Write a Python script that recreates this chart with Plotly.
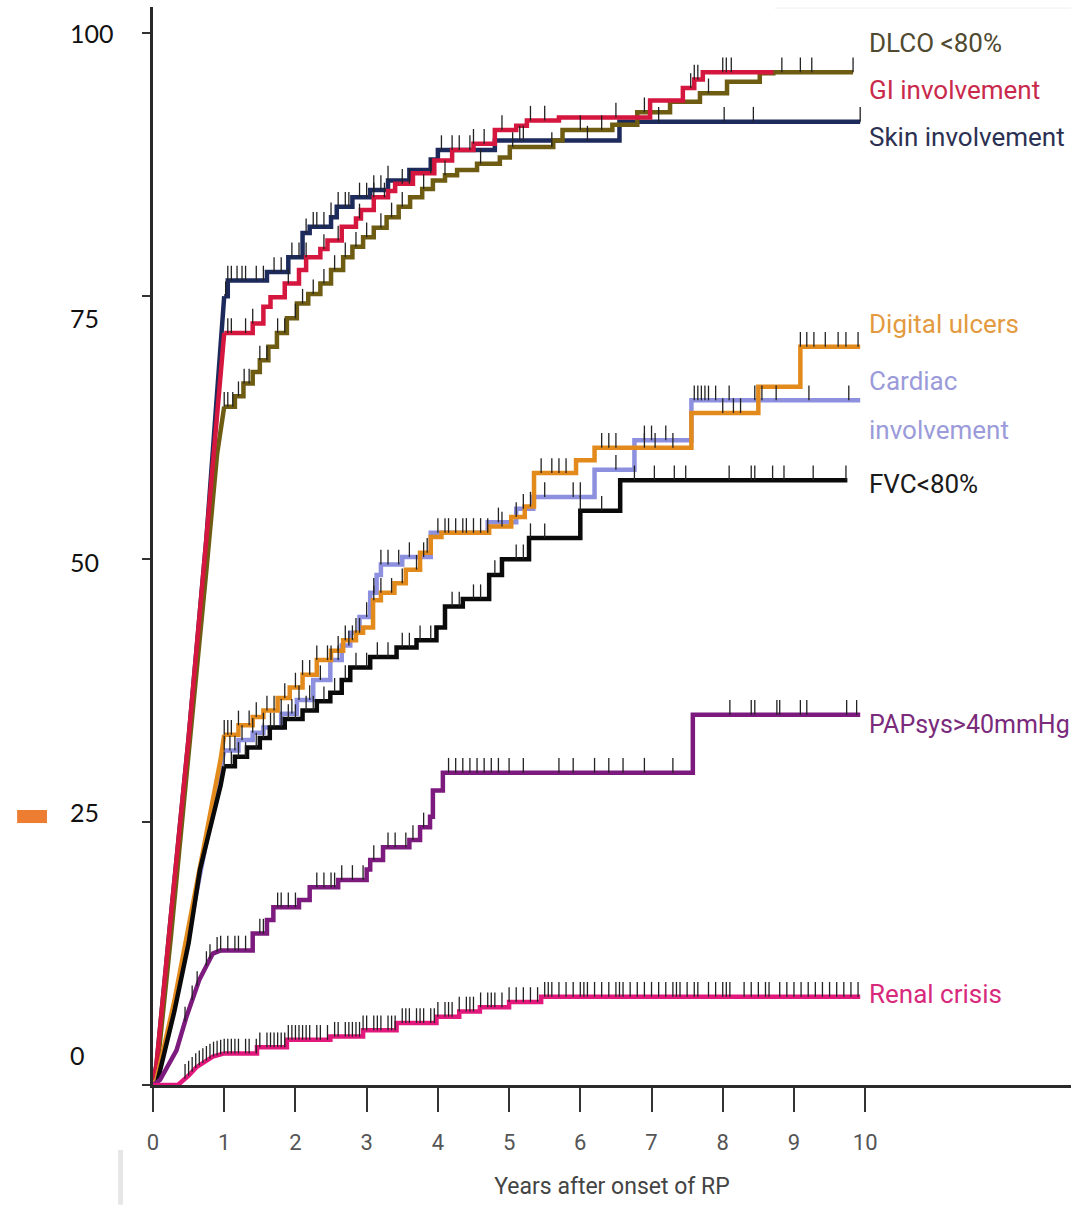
import numpy as np
import plotly.graph_objects as go

# ---------------- data ----------------
x_ticks = [0, 1, 2, 3, 4, 5, 6, 7, 8, 9, 10]
y_ticks = [0, 25, 50, 75, 100]
y_tick_labels = ["100", "75", "50", "25", "0"]
x_title = "Years after onset of RP"

# early rise (many tiny steps -> drawn as a line)
skin_rise_t = [0, 0.05, 0.25, 0.5, 0.75, 0.9, 0.97, 1.0]
skin_rise_v = [0, 2, 16, 33, 52, 65, 72, 75]
skin_t = [1.0, 1.05, 1.6, 1.9, 2.1, 2.2, 2.5, 2.58, 2.8, 3.05, 3.3, 3.6, 3.9, 4.0, 4.8, 6.55, 9.93]
skin_v = [75, 76.5, 77.3, 78.7, 81.0, 81.6, 82.5, 83.5, 84.4, 85.1, 86.0, 87.0, 88.0, 88.9, 89.8, 91.6, 91.6]
skin_cens = [1.02, 1.05, 1.1, 1.18, 1.25, 1.3, 1.45, 1.55, 1.7, 1.8, 1.95, 2.05, 2.15, 2.25, 2.3, 2.4,
             2.5, 2.6, 2.7, 2.75, 2.9, 3.0, 3.1, 3.2, 3.3, 4.05, 4.3, 4.45, 5.15, 5.2, 6.1, 7.1, 8.02,
             8.43, 9.93]

gi_rise_t = [0, 0.05, 0.25, 0.5, 0.75, 0.9, 0.98, 1.0]
gi_rise_v = [0, 2, 16, 33, 52, 64, 71, 71.5]
gi_t = [1.0, 1.4, 1.55, 1.65, 1.85, 2.05, 2.15, 2.35, 2.45, 2.65, 2.85, 2.92, 3.1, 3.3, 3.4, 3.65,
        3.95, 4.2, 4.5, 4.8, 5.1, 5.25, 5.7, 6.98, 7.44, 7.6, 7.72, 8.71]
gi_v = [71.5, 72.4, 74.0, 74.9, 76.2, 77.5, 78.7, 79.5, 80.3, 81.6, 82.4, 83.2, 84.4, 85.0, 85.7, 86.7,
        87.9, 88.9, 89.5, 90.8, 91.2, 91.7, 92.0, 93.6, 94.8, 95.6, 96.3, 96.3]
gi_cens = [1.05, 1.1, 1.3, 1.4, 1.9, 2.15, 2.4, 2.6, 2.9, 3.1, 3.25, 3.5, 3.6, 3.9, 4.2, 4.5, 4.65, 4.9,
           5.3, 5.5, 6.5, 7.55, 7.6, 7.65, 8.0, 8.05, 8.12]

dlco_rise_t = [0, 0.05, 0.25, 0.5, 0.75, 0.9, 0.97, 1.0]
dlco_rise_v = [0, 1, 14, 31, 49, 60, 63.5, 64.5]
dlco_t = [1.0, 1.15, 1.27, 1.4, 1.5, 1.62, 1.74, 1.88, 2.02, 2.18, 2.35, 2.5, 2.67, 2.8, 2.95, 3.1,
          3.28, 3.45, 3.61, 3.78, 3.93, 4.1, 4.27, 4.55, 4.87, 5.01, 5.62, 5.75, 6.45, 6.8, 7.26, 7.68,
          8.06, 8.52, 8.71, 9.83]
dlco_v = [64.5, 65.5, 66.7, 67.8, 68.9, 70.2, 71.5, 72.9, 74.3, 75.2, 76.2, 77.5, 78.7, 79.7, 80.6, 81.5,
          82.5, 83.5, 84.4, 85.2, 86.0, 86.5, 87.0, 87.6, 88.2, 89.2, 89.8, 90.8, 91.3, 92.5, 93.5, 94.3,
          95.4, 96.2, 96.3, 96.3]
dlco_cens = [1.0, 1.05, 1.12, 1.2, 1.28, 1.35, 1.5, 1.6, 1.75, 1.85, 2.0, 2.1, 2.25, 2.4, 2.55, 2.7, 2.85,
             3.0, 3.2, 3.35, 3.5, 3.8, 4.1, 4.6, 5.05, 5.6, 6.0, 6.3, 6.9, 7.8, 8.83, 9.09, 9.25, 9.83]

du_rise_t = [0, 0.05, 0.3, 0.5, 0.7, 0.85, 0.95, 1.0]
du_rise_v = [0, 0.5, 8, 15, 22, 27, 31, 33.3]
du_t = [1.0, 1.2, 1.4, 1.55, 1.75, 1.92, 2.1, 2.3, 2.5, 2.67, 2.85, 2.95, 3.09, 3.2, 3.39, 3.55, 3.75,
        3.9, 4.05, 4.72, 5.03, 5.22, 5.35, 5.94, 6.2, 7.56, 8.5, 9.09, 9.93]
du_v = [33.3, 34.2, 35.0, 35.6, 36.8, 37.8, 39.0, 40.4, 41.3, 42.3, 43.0, 43.5, 46.1, 46.8, 47.7, 49.0,
        50.6, 52.1, 52.5, 53.1, 54.0, 55.0, 58.2, 59.4, 60.6, 63.9, 66.4, 70.2, 70.2]
du_cens = [1.0, 1.05, 1.1, 1.2, 1.35, 1.45, 1.6, 1.7, 1.85, 2.0, 2.1, 2.2, 2.3, 2.45, 2.6, 2.7, 2.8, 2.9,
           3.1, 3.2, 3.35, 3.5, 3.7, 3.85, 4.1, 4.25, 4.35, 4.5, 4.7, 4.9, 5.1, 5.3, 5.45, 5.6, 5.7, 5.8,
           6.3, 6.4, 6.5, 6.9, 7.05, 7.3, 8.0, 8.15, 8.25, 9.09, 9.18, 9.28, 9.44, 9.62, 9.73, 9.9]

card_rise_t = [0, 0.05, 0.3, 0.5, 0.7, 0.85, 0.95, 1.0]
card_rise_v = [0, 0.5, 7.5, 14.5, 21.5, 26.5, 30, 31.8]
card_t = [1.0, 1.2, 1.4, 1.55, 1.8, 2.02, 2.25, 2.49, 2.65, 2.77, 2.9, 3.05, 3.14, 3.2, 3.5, 3.9, 4.7,
          5.1, 5.34, 6.2, 6.76, 7.56, 9.93]
card_v = [31.8, 32.8, 33.5, 34.0, 35.3, 36.6, 38.5, 40.4, 41.8, 43.0, 44.5, 46.8, 48.5, 49.5, 50.2, 52.5,
          53.5, 54.8, 55.9, 58.5, 61.3, 65.1, 65.1]
card_cens = [1.0, 1.08, 1.15, 1.25, 1.4, 1.55, 1.65, 1.8, 1.95, 2.05, 2.2, 2.35, 2.5, 2.6, 2.75, 2.85, 3.0,
             3.1, 3.2, 3.3, 3.45, 3.6, 3.8, 4.0, 4.15, 4.4, 4.6, 4.85, 5.2, 5.5, 5.9, 6.0, 6.5, 6.9, 7.0,
             7.2, 7.6, 7.65, 7.7, 7.75, 7.8, 7.9, 8.09, 8.45, 8.55, 8.75, 9.21, 9.77]

fvc_rise_t = [0, 0.05, 0.3, 0.5, 0.66, 0.85, 0.95, 1.0]
fvc_rise_v = [0, 0, 7, 13.5, 20.5, 25.5, 28.5, 30.3]
fvc_t = [1.0, 1.15, 1.32, 1.5, 1.64, 1.85, 2.1, 2.3, 2.49, 2.65, 2.77, 3.05, 3.42, 3.7, 3.98, 4.1, 4.35,
         4.72, 4.9, 5.28, 6.0, 6.56, 9.75]
fvc_v = [30.3, 31.2, 32.1, 33.0, 34.0, 34.8, 35.6, 36.5, 37.3, 38.5, 39.7, 40.7, 41.6, 42.3, 43.5, 45.5,
         46.2, 48.5, 50.0, 52.0, 54.6, 57.5, 57.5]
fvc_cens = [1.0, 1.1, 1.2, 1.3, 1.45, 1.55, 1.7, 1.8, 1.9, 2.0, 2.15, 2.25, 2.4, 2.55, 2.7, 2.85, 3.0, 3.15,
            3.3, 3.5, 3.6, 3.75, 3.9, 4.2, 4.3, 4.5, 4.6, 4.8, 5.1, 5.2, 5.3, 5.5, 6.0, 6.3, 6.76, 7.04,
            7.32, 7.48, 8.09, 8.4, 8.45, 8.7, 8.86, 9.27, 9.73]

pap_rise_t = [0, 0.1, 0.33, 0.47, 0.65, 0.84, 0.95]
pap_rise_v = [0, 0.5, 3.3, 6.5, 10, 12.5, 12.8]
pap_t = [0.95, 1.4, 1.6, 1.69, 2.05, 2.2, 2.6, 3.0, 3.05, 3.23, 3.6, 3.75, 3.89, 3.93, 4.07, 7.58, 9.93]
pap_v = [12.8, 14.4, 15.7, 16.9, 17.6, 18.8, 19.5, 20.5, 21.4, 22.6, 23.3, 24.5, 25.5, 28.0, 29.7, 35.2, 35.2]
pap_cens = [0.45, 0.55, 0.62, 0.75, 0.8, 0.9, 0.95, 1.05, 1.15, 1.2, 1.3, 1.5, 1.55, 1.75, 1.8, 1.9, 2.0,
            2.3, 2.4, 2.5, 2.55, 2.65, 2.8, 2.95, 3.1, 3.3, 3.4, 3.55, 3.65, 3.8, 4.15, 4.25, 4.35, 4.45,
            4.55, 4.65, 4.75, 4.85, 5.0, 5.2, 5.7, 5.9, 6.2, 6.4, 6.6, 6.9, 7.3, 8.1, 8.4, 8.45, 8.76, 8.8,
            9.09, 9.18, 9.74, 9.88]

renal_rise_t = [0, 0.35, 0.5, 0.61, 0.84, 1.0]
renal_rise_v = [0, 0, 0.9, 1.7, 2.7, 3.0]
renal_t = [1.0, 1.46, 1.88, 2.49, 2.95, 3.42, 3.98, 4.3, 4.59, 5.0, 5.45, 9.93]
renal_v = [3.0, 3.6, 4.3, 4.6, 5.2, 5.9, 6.5, 7.0, 7.4, 7.9, 8.4, 8.4]
renal_cens = [0.45, 0.5, 0.55, 0.6, 0.65, 0.7, 0.75, 0.8, 0.85, 0.9, 0.95, 1.0, 1.05, 1.1, 1.15, 1.2, 1.3,
              1.35, 1.45, 1.5, 1.6, 1.65, 1.7, 1.75, 1.8, 1.85, 1.9, 1.95, 2.0, 2.05, 2.1, 2.15, 2.2, 2.3,
              2.35, 2.45, 2.55, 2.6, 2.7, 2.75, 2.8, 2.85, 2.9, 2.95, 3.0, 3.1, 3.15, 3.2, 3.3, 3.35, 3.4,
              3.5, 3.55, 3.6, 3.7, 3.75, 3.8, 3.9, 3.95, 4.0, 4.1, 4.15, 4.2, 4.3, 4.4, 4.45, 4.5, 4.6,
              4.7, 4.75, 4.8, 4.9, 5.0, 5.1, 5.2, 5.3, 5.4, 5.5, 5.55, 5.6, 5.7, 5.8, 5.9, 6.0, 6.05, 6.1,
              6.2, 6.3, 6.4, 6.5, 6.55, 6.6, 6.7, 6.8, 6.9, 7.0, 7.1, 7.2, 7.3, 7.35, 7.4, 7.5, 7.6, 7.65,
              7.8, 7.9, 8.0, 8.05, 8.1, 8.3, 8.4, 8.5, 8.6, 8.65, 8.8, 8.9, 9.0, 9.1, 9.2, 9.3, 9.4, 9.5,
              9.6, 9.7, 9.8, 9.9]

series_names = ["Skin involvement", "DLCO <80%", "GI involvement", "Cardiac involvement",
                "Digital ulcers", "FVC<80%", "PAPsys>40mmHg", "Renal crisis"]

# ---------------- styling ----------------
line_colors = {
    "Skin involvement": "#1d2a5c",
    "DLCO <80%": "#6d5c12",
    "GI involvement": "#d5163e",
    "Cardiac involvement": "#8d90de",
    "Digital ulcers": "#e28a1c",
    "FVC<80%": "#0a0a0a",
    "PAPsys>40mmHg": "#7c1a7e",
    "Renal crisis": "#e3187c",
}
series_data = {
    "Skin involvement": (skin_rise_t, skin_rise_v, skin_t, skin_v, skin_cens),
    "DLCO <80%": (dlco_rise_t, dlco_rise_v, dlco_t, dlco_v, dlco_cens),
    "GI involvement": (gi_rise_t, gi_rise_v, gi_t, gi_v, gi_cens),
    "Cardiac involvement": (card_rise_t, card_rise_v, card_t, card_v, card_cens),
    "Digital ulcers": (du_rise_t, du_rise_v, du_t, du_v, du_cens),
    "FVC<80%": (fvc_rise_t, fvc_rise_v, fvc_t, fvc_v, fvc_cens),
    "PAPsys>40mmHg": (pap_rise_t, pap_rise_v, pap_t, pap_v, pap_cens),
    "Renal crisis": (renal_rise_t, renal_rise_v, renal_t, renal_v, renal_cens),
}

NARROW = "Roboto, Liberation Sans, sans-serif"
LINE_W = 4.5
CENSOR_LEN = 1.4


def value_at(rt, rv, st, sv, t):
    if t <= rt[-1]:
        return float(np.interp(t, rt, rv))
    i = int(np.searchsorted(st, t, side="right")) - 1
    return sv[max(i, 0)]


fig = go.Figure()

for name in series_names:
    rt, rv, st, sv, cens = series_data[name]
    col = line_colors[name]
    fig.add_trace(go.Scatter(x=rt, y=rv, mode="lines", line=dict(color=col, width=LINE_W),
                             showlegend=False, hoverinfo="skip"))
    fig.add_trace(go.Scatter(x=st, y=sv, mode="lines", line=dict(color=col, width=LINE_W, shape="hv"),
                             name=name, showlegend=False))

for name in series_names:
    rt, rv, st, sv, cens = series_data[name]
    cy = [value_at(rt, rv, st, sv, c) for c in cens]
    fig.add_trace(go.Scatter(
        x=cens, y=cy, mode="markers", marker=dict(size=1, color="rgba(0,0,0,0)"),
        error_y=dict(type="data", symmetric=False, array=[CENSOR_LEN] * len(cens),
                     arrayminus=[0] * len(cens), color="#222222", thickness=1.3, width=0),
        showlegend=False, hoverinfo="skip"))

# series labels at the line ends
label_specs = [
    ("DLCO <80%", 99.1, "#4f4a30", 26),
    ("GI involvement", 94.6, "#c92a4c", 26),
    ("Skin involvement", 90.1, "#2b3152", 26),
    ("Digital ulcers", 72.4, "#e39a40", 26),
    ("Cardiac", 66.9, "#9b9bda", 26),
    ("involvement", 62.3, "#9b9bda", 26),
    ("FVC<80%", 57.1, "#1a1a1a", 26),
    ("PAPsys>40mmHg", 34.3, "#7a2b7c", 25),
    ("Renal crisis", 8.7, "#d82a7c", 26),
]
for txt, yv, col, fs in label_specs:
    fig.add_annotation(x=10.03, y=yv, xref="x", yref="y", text=txt, showarrow=False,
                       xanchor="left", yanchor="middle",
                       font=dict(family=NARROW, size=fs, color=col))

# y tick labels (placed as in the source figure)
ytl_y = [100.0, 72.9, 49.7, 25.95, 2.85]
for txt, yv in zip(y_tick_labels, ytl_y):
    fig.add_annotation(x=-0.0926, y=yv, xref="paper", yref="y", text=txt, showarrow=False,
                       xanchor="left", yanchor="middle",
                       font=dict(family="Lato, Carlito, sans-serif", size=25, color="#111111"))

# decorations
fig.add_shape(type="rect", xref="paper", yref="paper", x0=-0.148, x1=-0.1155, y0=0.2430, y1=0.2551,
              fillcolor="#ed7d31", line=dict(width=0))
fig.add_shape(type="rect", xref="paper", yref="paper", x0=-0.038, x1=-0.0327, y0=-0.111, y1=-0.0603,
              fillcolor="#e6e6e6", line=dict(width=0))
fig.add_shape(type="line", xref="paper", yref="paper", x0=0.6776, x1=1.0, y0=0.999, y1=0.999,
              line=dict(color="#eeeeee", width=1))

fig.update_layout(
    width=1071, height=1205,
    margin=dict(l=153, r=0, t=7, b=120),
    paper_bgcolor="white", plot_bgcolor="white",
    showlegend=False,
)
fig.update_xaxes(
    range=[0, 12.89], tickvals=x_ticks, ticktext=[str(v) for v in x_ticks],
    showline=True, linecolor="#2a2a2a", linewidth=2.5, ticks="outside", ticklen=24,
    tickwidth=1.5, tickcolor="#333333", showgrid=False, zeroline=False,
    tickfont=dict(family=NARROW, size=22, color="#555555"), ticklabelstandoff=12,
    title=dict(text=x_title, font=dict(family=NARROW, size=23, color="#444444"), standoff=24),
)
fig.update_yaxes(
    range=[0, 102.5], tickvals=y_ticks, showticklabels=False,
    showline=True, linecolor="#2a2a2a", linewidth=2.5, ticks="outside", ticklen=8,
    tickwidth=1.5, tickcolor="#333333", showgrid=False, zeroline=False,
)

fig.write_html("out.html")
